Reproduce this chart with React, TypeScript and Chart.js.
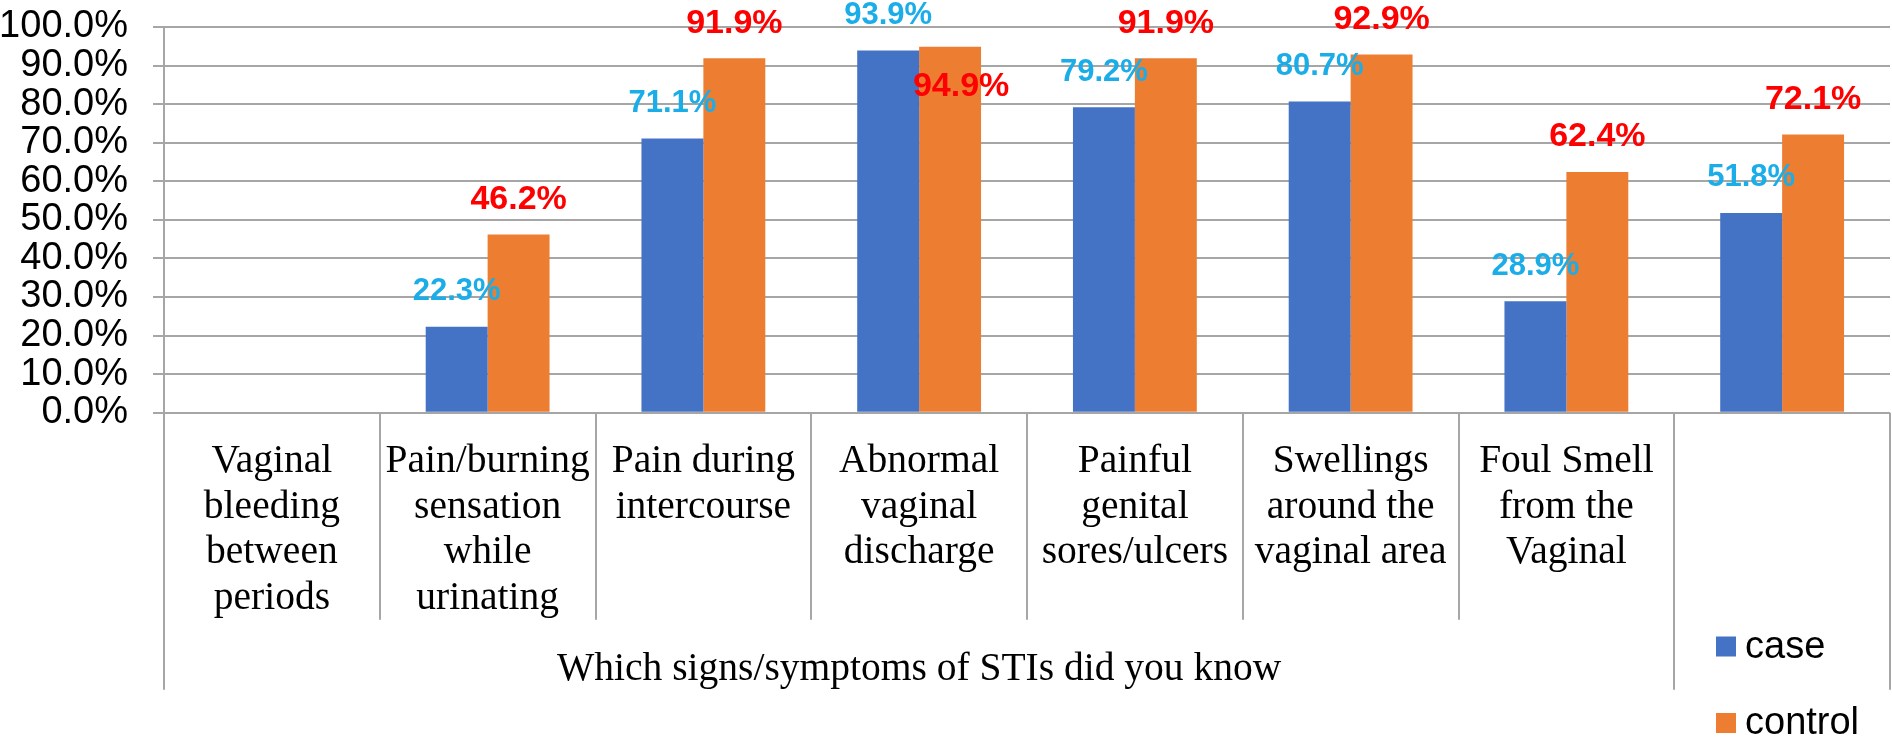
import React, { useEffect, useRef } from "react";
import { Chart, registerables } from "chart.js";

Chart.register(...registerables);

// ---------- data ----------
const categoryLines: string[][] = [
  ["Vaginal", "bleeding", "between", "periods"],
  ["Pain/burning", "sensation", "while", "urinating"],
  ["Pain during", "intercourse"],
  ["Abnormal", "vaginal", "discharge"],
  ["Painful", "genital", "sores/ulcers"],
  ["Swellings", "around the", "vaginal area"],
  ["Foul Smell", "from the", "Vaginal"],
  [""],
];
const groupLabel = "Which signs/symptoms of STIs did you know";
const groupSpan = 7;
const seriesNames = ["case", "control"];
const caseValues: (number | null)[] = [null, 22.3, 71.1, 93.9, 79.2, 80.7, 28.9, 51.8];
const controlValues: (number | null)[] = [null, 46.2, 91.9, 94.9, 91.9, 92.9, 62.4, 72.1];
const yMin = 0;
const yMax = 100;
const yStep = 10;

// ---------- styles ----------
const W = 1892;
const H = 737;
const barColors = ["#4472C4", "#ED7D31"];
const labelColors = ["#1AADE8", "#FF0000"];
const labelSizes = [31, 34];
const gridColor = "#A6A6A6";
const SANS = '"Liberation Sans", Arial, sans-serif';
const SERIF = '"Liberation Serif", "Times New Roman", serif';
const labelNudges: Record<string, [number, number]> = { "1-3": [11, 75] };

const valueLabelPlugin = {
  id: "valueLabels",
  afterDatasetsDraw(chart: any) {
    const ctx = chart.ctx;
    chart.data.datasets.forEach((ds: any, di: number) => {
      const meta = chart.getDatasetMeta(di);
      meta.data.forEach((bar: any, i: number) => {
        const v = ds.data[i];
        if (v == null) return;
        const n = labelNudges[`${di}-${i}`] || [0, 0];
        ctx.save();
        ctx.font = `bold ${labelSizes[di]}px ${SANS}`;
        ctx.fillStyle = labelColors[di];
        ctx.textAlign = "center";
        ctx.textBaseline = "middle";
        ctx.fillText(`${v.toFixed(1)}%`, bar.x + n[0], bar.y - 35 + n[1]);
        ctx.restore();
      });
    });
  },
};

const categoryAxisPlugin = {
  id: "categoryAxis",
  afterDraw(chart: any) {
    const ctx = chart.ctx;
    const x = chart.scales.x;
    const bottom = chart.chartArea.bottom;
    const n = categoryLines.length;
    const step = x.getPixelForValue(1) - x.getPixelForValue(0);
    const edge = (i: number) => x.getPixelForValue(0) - step / 2 + i * step;
    ctx.save();
    ctx.strokeStyle = gridColor;
    ctx.lineWidth = 2;
    for (let i = 0; i <= n; i++) {
      const outer = i === 0 || i === groupSpan || i === n;
      const px = Math.round(edge(i));
      ctx.beginPath();
      ctx.moveTo(px, bottom);
      ctx.lineTo(px, bottom + (outer ? 277 : 207));
      ctx.stroke();
    }
    ctx.fillStyle = "#000";
    ctx.font = `39.5px ${SERIF}`;
    ctx.textAlign = "center";
    ctx.textBaseline = "alphabetic";
    categoryLines.forEach((lines, i) => {
      const cx = x.getPixelForValue(i);
      lines.forEach((t, k) => {
        ctx.fillText(t, cx, bottom + 59.5 + k * 45.5);
      });
    });
    const gx = (edge(0) + edge(groupSpan)) / 2;
    ctx.fillText(groupLabel, gx, bottom + 267);

    // legend
    ctx.font = `38px ${SANS}`;
    ctx.textAlign = "left";
    ctx.textBaseline = "middle";
    const legendX = 1716;
    const legendY = [646.5, 723];
    seriesNames.forEach((name, i) => {
      ctx.fillStyle = barColors[i];
      ctx.fillRect(legendX, legendY[i] - 10, 20, 20);
      ctx.fillStyle = "#000";
      ctx.fillText(name, legendX + 29, legendY[i] + 1);
    });
    ctx.restore();
  },
};

export default function App() {
  const ref = useRef<HTMLCanvasElement | null>(null);
  useEffect(() => {
    if (!ref.current) return;
    const chart = new Chart(ref.current, {
      type: "bar",
      data: {
        labels: categoryLines.map((l) => l.join(" ")),
        datasets: [
          { label: seriesNames[0], data: caseValues as any, backgroundColor: barColors[0], categoryPercentage: 0.574, barPercentage: 1 },
          { label: seriesNames[1], data: controlValues as any, backgroundColor: barColors[1], categoryPercentage: 0.574, barPercentage: 1 },
        ],
      },
      options: {
        animation: false,
        responsive: false,
        devicePixelRatio: 1,
        layout: { padding: { top: 27, right: 2, left: 0, bottom: 0 } },
        plugins: { legend: { display: false }, tooltip: { enabled: false } },
        scales: {
          x: {
            grid: { display: false },
            border: { display: false },
            ticks: { display: false },
            afterFit: (s: any) => {
              s.height = H - 412.7;
            },
          },
          y: {
            min: yMin,
            max: yMax,
            ticks: {
              stepSize: yStep,
              autoSkip: false,
              padding: 25,
              color: "#000",
              font: { family: SANS, size: 38 },
              callback: (v: any) => `${Number(v).toFixed(1)}%`,
            },
            grid: { color: gridColor, lineWidth: 2, tickLength: 11, drawTicks: true },
            border: { color: gridColor, width: 2 },
            afterFit: (s: any) => {
              s.width = 164;
              s.paddingTop = 0;
              s.paddingBottom = 0;
            },
          },
        },
      },
      plugins: [valueLabelPlugin, categoryAxisPlugin],
    });
    return () => chart.destroy();
  }, []);
  return (
    <div style={{ position: "fixed", left: 0, top: 0, width: W, height: H, background: "#fff" }}>
      <canvas ref={ref} width={W} height={H} style={{ display: "block", width: W, height: H }} />
    </div>
  );
}
